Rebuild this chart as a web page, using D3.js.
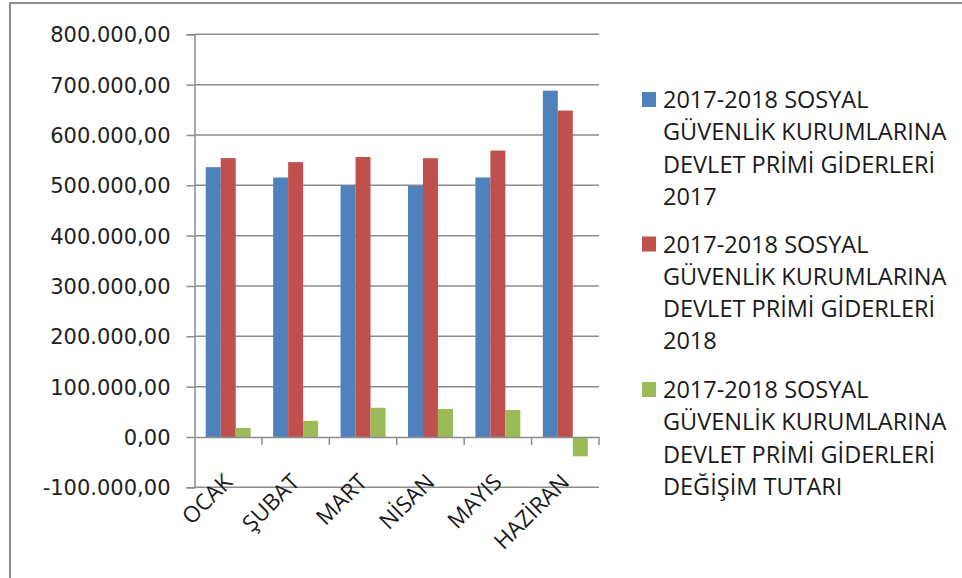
<!DOCTYPE html>
<html>
<head>
<meta charset="utf-8">
<script src="https://cdn.jsdelivr.net/npm/d3@7"></script>
<style>
  body { margin: 0; background: #fff; }
  svg { display: block; }
  text { font-family: "Open Sans", sans-serif; }
</style>
</head>
<body>
<script>
var months = ['OCAK', 'ŞUBAT', 'MART', 'NİSAN', 'MAYIS', 'HAZİRAN'];
var prim2017 = [536000, 515500, 499500, 498800, 515500, 688000];
var prim2018 = [554000, 546000, 556300, 553800, 569000, 648500];
var degisim = [18000, 32000, 58000, 55500, 53500, -38500];
var seriesNames = [
  ['2017-2018 SOSYAL', 'GÜVENLİK KURUMLARINA', 'DEVLET PRİMİ GİDERLERİ', '2017'],
  ['2017-2018 SOSYAL', 'GÜVENLİK KURUMLARINA', 'DEVLET PRİMİ GİDERLERİ', '2018'],
  ['2017-2018 SOSYAL', 'GÜVENLİK KURUMLARINA', 'DEVLET PRİMİ GİDERLERİ', 'DEĞİŞİM TUTARI']
];
var yTicks = [-100000, 0, 100000, 200000, 300000, 400000, 500000, 600000, 700000, 800000];
var colors = ['#4F81BD', '#C0504D', '#9BBB59'];

var W = 962, H = 578;
var plot = { left: 194.5, right: 599, top: 34.3, bottom: 487.3 };

var svg = d3.select('body').append('svg')
  .attr('width', W)
  .attr('height', H);

// outer chart border (cropped on the right and bottom)
svg.append('rect')
  .attr('x', 10).attr('y', 3)
  .attr('width', W + 20).attr('height', H + 20)
  .attr('fill', '#fff')
  .attr('stroke', '#8c8c8c')
  .attr('stroke-width', 2);

var tr = d3.formatLocale({ decimal: ',', thousands: '.', grouping: [3], currency: ['', ''], minus: '-' });
var fmt = tr.format(',.2f');

var x = d3.scaleBand().domain(months).range([plot.left, plot.right]);
var xs = d3.scaleBand().domain(d3.range(3)).range([0, x.bandwidth()])
  .paddingInner(0).paddingOuter(0.75);
var y = d3.scaleLinear().domain([-100000, 800000]).range([plot.bottom, plot.top]);

// grid lines
svg.append('g')
  .selectAll('line')
  .data(yTicks.filter(function(d) { return d !== 0; }))
  .join('line')
  .attr('x1', plot.left).attr('x2', plot.right)
  .attr('y1', function(d) { return y(d); })
  .attr('y2', function(d) { return y(d); })
  .attr('stroke', '#8c8c8c')
  .attr('stroke-width', 1.5);

// bars
var series = [prim2017, prim2018, degisim];
series.forEach(function(vals, si) {
  svg.append('g')
    .selectAll('rect')
    .data(vals)
    .join('rect')
    .attr('x', function(d, i) { return x(months[i]) + xs(si); })
    .attr('width', xs.bandwidth())
    .attr('y', function(d) { return y(Math.max(0, d)); })
    .attr('height', function(d) { return Math.abs(y(d) - y(0)); })
    .attr('fill', colors[si]);
});

// y axis
var yAxis = svg.append('g')
  .attr('transform', 'translate(' + plot.left + ',0)')
  .call(d3.axisLeft(y).tickValues(yTicks).tickFormat(fmt).tickSize(8).tickPadding(16));
yAxis.select('.domain').attr('stroke', '#8c8c8c').attr('stroke-width', 1.5);
yAxis.selectAll('.tick line').attr('stroke', '#8c8c8c').attr('stroke-width', 1.5);
yAxis.selectAll('.tick text')
  .attr('fill', '#222')
  .attr('dy', '0.36em')
  .style('font-family', '"DejaVu Sans", sans-serif')
  .style('font-size', '21px');

// x axis at zero
var xAxis = svg.append('g')
  .attr('transform', 'translate(0,' + y(0) + ')')
  .call(d3.axisBottom(x).tickSize(0).tickFormat(''));
xAxis.select('.domain').attr('stroke', '#8c8c8c').attr('stroke-width', 1.5);
xAxis.selectAll('.bnd')
  .data(months)
  .join('line')
  .attr('class', 'bnd')
  .attr('x1', function(d) { return x(d) + x.bandwidth(); })
  .attr('x2', function(d) { return x(d) + x.bandwidth(); })
  .attr('y1', 0).attr('y2', 8)
  .attr('stroke', '#8c8c8c').attr('stroke-width', 1.5);

// rotated category labels
svg.append('g')
  .selectAll('text')
  .data(months)
  .join('text')
  .attr('transform', function(d) {
    return 'translate(' + (x(d) + x.bandwidth() / 2 - 6) + ',' + 472 + ') rotate(-45)';
  })
  .attr('text-anchor', 'end')
  .attr('dy', '0.72em')
  .attr('fill', '#1a1a1a')
  .style('font-size', '22.5px')
  .text(function(d) { return d; });

// legend
var legend = svg.append('g');
var itemY = [108, 252.5, 398];
seriesNames.forEach(function(lines, i) {
  legend.append('rect')
    .attr('x', 642).attr('y', itemY[i] - 16)
    .attr('width', 14).attr('height', 15)
    .attr('fill', colors[i]);
  legend.append('text')
    .attr('x', 663).attr('y', itemY[i])
    .attr('fill', '#1a1a1a')
    .style('font-size', '23.5px')
    .selectAll('tspan')
    .data(lines)
    .join('tspan')
    .attr('x', 663)
    .attr('dy', function(d, k) { return k === 0 ? 0 : 32.3; })
    .text(function(d) { return d; });
});
</script>
</body>
</html>
